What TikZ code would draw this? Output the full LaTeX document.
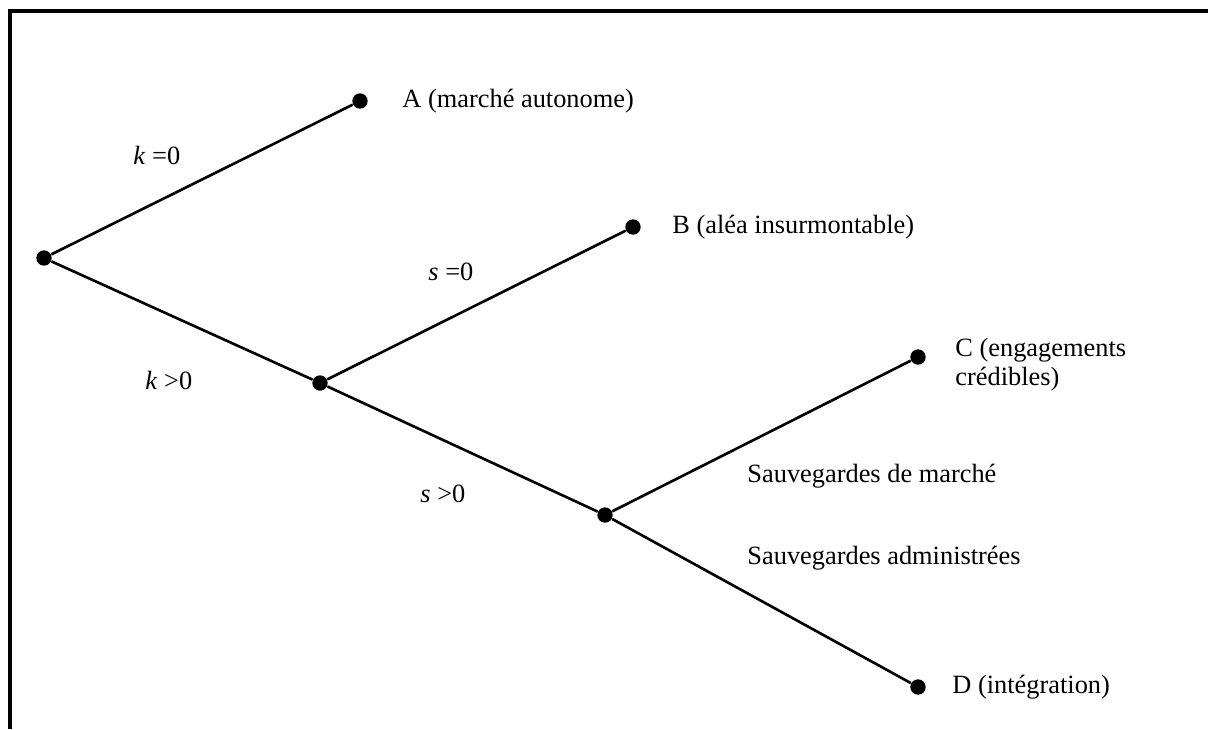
\documentclass[tikz,border=0pt]{standalone}
\usepackage{fontspec}
\setmainfont{Liberation Serif}
\usepackage{xcolor}

\tikzset{
    dot/.style={circle, fill=black, inner sep=0pt, minimum size=7pt},
    branch/.style={line width=1.2pt},
    lbl/.style={anchor=west, inner sep=0pt, font=\fontsize{12}{13}\selectfont},
}

\begin{document}
\begin{tikzpicture}[x=0.455pt, y=-0.455pt]

        \useasboundingbox (0,0) rectangle (1208,729);

        % Frame
        \draw[line width=1.4pt] (10,729) -- (10,11) -- (1208,11);

        % Decision points
        \node[dot] (root) at (44,258) {};
        \node[dot] (ks) at (320,383) {};
        \node[dot] (sg) at (605,515) {};

        % Outcomes
        \node[dot] (a) at (360,101) {};
        \node[dot] (b) at (633,227) {};
        \node[dot] (c) at (918,357) {};
        \node[dot] (d) at (918,687) {};

        % Branches
        \draw[branch] (root) -- (a);
        \draw[branch] (root) -- (ks);
        \draw[branch] (ks) -- (b);
        \draw[branch] (ks) -- (sg);
        \draw[branch] (sg) -- (c);
        \draw[branch] (sg) -- (d);

        % Labels
        \node[lbl] (la) at (402,101) {A (marché autonome)};
        \node[lbl] (lb) at (672,227) {B (aléa insurmontable)};
        \node[lbl, anchor=north west, align=left] (lc) at (955,338)
            {C (engagements\\crédibles)};
        \node[lbl] (ld) at (952,687) {D (intégration)};

        \node[lbl] (k0) at (133,155) {\textit{k} =0};
        \node[lbl] (kp) at (145,380) {\textit{k} >0};
        \node[lbl] (s0) at (428,272) {\textit{s} =0};
        \node[lbl] (sp) at (420,494) {\textit{s} >0};

        \node[lbl] (sm) at (747,476) {Sauvegardes de marché};
        \node[lbl] (sa) at (747,558) {Sauvegardes administrées};

    \end{tikzpicture}
\end{document}
